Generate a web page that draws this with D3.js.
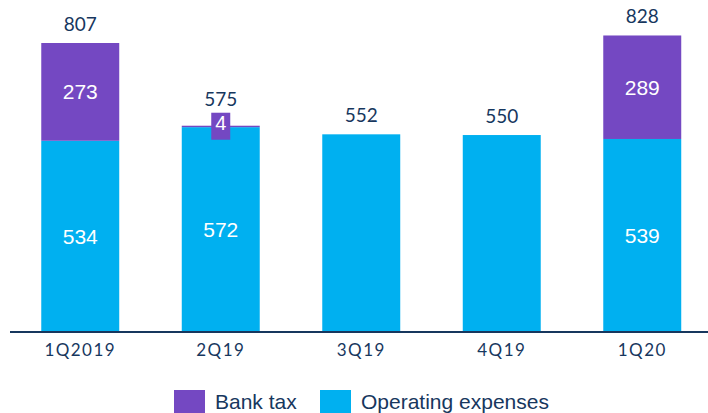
<!DOCTYPE html>
<html>
<head>
<meta charset="utf-8">
<script src="https://cdn.jsdelivr.net/npm/d3@7"></script>
<style>
  html, body { margin: 0; padding: 0; background: #fff; }
  svg { display: block; }
</style>
</head>
<body>
<svg id="chart" width="708" height="413"></svg>
<script>
const categories = ["1Q2019", "2Q19", "3Q19", "4Q19", "1Q20"];
const operatingExpenses = [534, 572, 552, 550, 539];
const bankTax = [273, 4, 0, 0, 289];
const totals = [807, 575, 552, 550, 828];
const legendLabels = ["Bank tax", "Operating expenses"];

const W = 708, H = 413;
const colors = { tax: "#7448C2", opex: "#00B0F0", navy: "#17375E" };
const svg = d3.select("#chart");

const x = d3.scaleBand().domain(categories).range([10, 712.5]).paddingInner(0.445).paddingOuter(0.2225);
const y = d3.scaleLinear().domain([0, 807]).range([332, 43]);

const data = categories.map((c, i) => ({ c, opex: operatingExpenses[i], tax: bankTax[i], total: totals[i] }));

// opex bars
svg.selectAll("rect.opex").data(data).join("rect")
  .attr("class", "opex")
  .attr("x", d => x(d.c)).attr("width", x.bandwidth())
  .attr("y", d => y(d.opex)).attr("height", d => y(0) - y(d.opex))
  .attr("fill", colors.opex);

// tax bars
svg.selectAll("rect.tax").data(data.filter(d => d.tax > 0)).join("rect")
  .attr("class", "tax")
  .attr("x", d => x(d.c)).attr("width", x.bandwidth())
  .attr("y", d => y(d.opex + d.tax)).attr("height", d => y(d.opex) - y(d.opex + d.tax))
  .attr("fill", colors.tax);

// axis line
const axis = d3.axisBottom(x).tickSize(0).tickPadding(12);
const gx = svg.append("g").attr("transform", "translate(0,332)").call(axis);
gx.select(".domain").attr("d", "M10,0H708").attr("stroke", colors.navy).attr("stroke-width", 2);
gx.selectAll("text").attr("font-family", "Lato, 'Open Sans', sans-serif").attr("font-size", 17)
  .attr("letter-spacing", 1.4).attr("fill", colors.navy);

// opex labels
svg.selectAll("text.opexl").data(data.filter(d => d.tax > 0)).join("text")
  .attr("class", "opexl")
  .attr("x", d => x(d.c) + x.bandwidth() / 2)
  .attr("y", d => (y(0) + y(d.opex)) / 2)
  .attr("dy", "0.35em").attr("text-anchor", "middle")
  .attr("font-family", "'Liberation Sans', Arial, sans-serif").attr("font-size", 21)
  .attr("fill", "#fff").text(d => d.opex);

// tax labels
const labelTop = {};
data.filter(d => d.tax > 0).forEach(d => {
  const cx = x(d.c) + x.bandwidth() / 2;
  let cy = (y(d.opex) + y(d.opex + d.tax)) / 2;
  let fs = 21;
  if (d.tax < 20) {
    const top = y(d.opex + d.tax);
    svg.append("rect").attr("x", cx - 9.5).attr("y", top - 13).attr("width", 19).attr("height", 27).attr("fill", colors.tax);
    cy = top - 3;
    fs = 20;
    labelTop[d.c] = top - 13;
  }
  svg.append("text").attr("x", cx).attr("y", cy).attr("dy", "0.35em").attr("text-anchor", "middle")
    .attr("font-family", "'Liberation Sans', Arial, sans-serif").attr("font-size", fs)
    .attr("fill", "#fff").text(d.tax);
});

// total labels
svg.selectAll("text.tot").data(data).join("text")
  .attr("class", "tot")
  .attr("x", d => x(d.c) + x.bandwidth() / 2)
  .attr("y", d => (labelTop[d.c] !== undefined ? labelTop[d.c] - 7 : y(d.total) - 12))
  .attr("text-anchor", "middle")
  .attr("font-family", "Lato, 'Open Sans', sans-serif").attr("font-size", 19)
  .attr("fill", colors.navy).text(d => d.total);

// legend
const legend = [
  { label: legendLabels[0], color: colors.tax, x: 174 },
  { label: legendLabels[1], color: colors.opex, x: 320 }
];
legend.forEach(l => {
  svg.append("rect").attr("x", l.x).attr("y", 390).attr("width", 31).attr("height", 23).attr("fill", l.color);
  svg.append("text").attr("x", l.x + 41).attr("y", 409)
    .attr("font-family", "'Liberation Sans', Arial, sans-serif").attr("font-size", 21)
    .attr("fill", colors.navy).text(l.label);
});
</script>
</body>
</html>
